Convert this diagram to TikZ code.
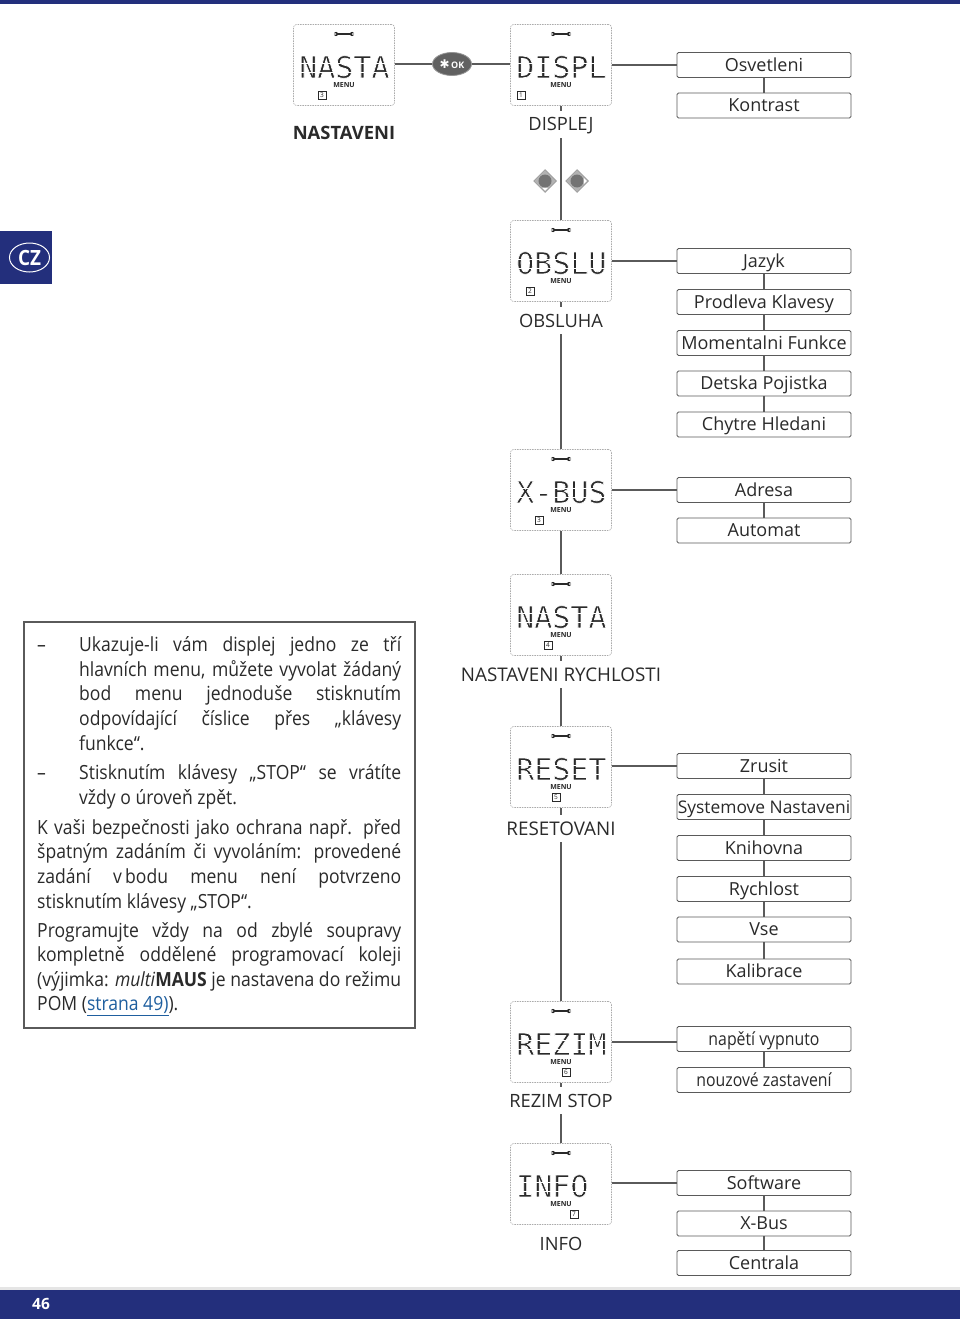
\documentclass[tikz,border=0pt]{standalone}
\usepackage{fontspec}
\usetikzlibrary{shapes.geometric}
\setmainfont{Open Sans}
\newfontfamily\bodyf[FakeStretch=0.9]{Open Sans}
\newfontfamily\condf[FakeStretch=0.88]{Open Sans}
\newfontfamily\lcdf{DejaVu Sans Mono}
\newfontfamily\symf{DejaVu Sans}
\definecolor{navy}{HTML}{232F7C}
\definecolor{linec}{HTML}{5A5A5A}
\definecolor{boxc}{HTML}{5A5A5A}
\definecolor{dashc}{HTML}{ABABAB}
\definecolor{linkc}{HTML}{1F5F9F}
\definecolor{inkc}{HTML}{2A2A2A}
\tikzset{
 x=1pt,y=-1pt,
 conn/.style={draw=linec,line width=1.3pt},
 menubox/.style={draw=boxc,fill=white,line width=0.8pt,rounded corners=1.5pt,minimum width=174pt,minimum height=25pt,inner sep=0pt,text height=12.4pt,text depth=0pt,font=\fontsize{18}{20}\selectfont,text=inkc},
 tightbox/.style={menubox,font=\fontsize{17.4}{20}\selectfont},
 condbox/.style={menubox,font=\condf\fontsize{18}{20}\selectfont},
 lcd/.style={draw=dashc,dash pattern=on 1.5pt off 1pt,line width=0.6pt,rounded corners=3pt,minimum width=101pt,minimum height=81pt,inner sep=0pt},
 lcdtext/.style={inner sep=0pt,anchor=west,font=\lcdf\fontsize{30}{30}\selectfont,text=inkc},
 menutag/.style={inner sep=0pt,font=\bfseries\fontsize{7}{7}\selectfont,text=inkc},
 numtag/.style={draw=inkc,line width=0.5pt,minimum size=8pt,inner sep=0pt,font=\fontsize{6.5}{6.5}\selectfont,text=inkc},
 caption/.style={inner sep=0pt,minimum height=27pt,text height=13pt,text depth=0pt,font=\fontsize{18.3}{20}\selectfont,text=inkc},
 wcaption/.style={caption,font=\fontsize{18.8}{20}\selectfont},
 wrench/.style={line width=1.3pt,draw=inkc},
 framebox/.style={draw=boxc,line width=1.3pt,inner sep=0pt,minimum width=391pt,minimum height=406pt},
 keydia/.style={diamond,aspect=1,fill=black!30,draw=black!45,line width=0.5pt,minimum size=23pt,inner sep=0pt},
 keyin/.style={circle,fill=black!55,minimum size=13pt,inner sep=0pt}
}
\newcommand{\thinon}{\special{pdf:code q 2 Tr 1 1 1 RG 0.7 w}}
\newcommand{\thinoff}{\special{pdf:code Q}}
\newcommand{\lcdunit}[6]{%
 \node[lcd] (#1) at (#2,#3) {};
 \draw[wrench] (#2-7,#3-31) -- (#2+7,#3-31);
 \fill[inkc] (#2-8,#3-31) circle (2.1pt) (#2+8,#3-31) circle (2.1pt);
 \fill[white] (#2-10.5,#3-31.7) rectangle (#2-8,#3-30.3) (#2+8,#3-31.7) rectangle (#2+10.5,#3-30.3);
 \node[lcdtext] (#1t) at (#2-45,#3+2) {\thinon#4\thinoff};
 \draw[white,line width=0.7pt] (#2-46,#3-2) -- (#2+46,#3-2);
 \draw[white,line width=0.7pt] (#2-46,#3+7.5) -- (#2+46,#3+7.5);
 \node[menutag] (#1m) at (#2,#3+20.5) {MENU};
 \node[numtag] (#1n) at (#2+#6,#3+30.5) {#5};
}
\newcommand{\jl}[1]{\hbox to 364pt{#1}}
\newcommand{\il}[1]{\hbox to 364pt{\hbox to 42pt{\hfil}\hbox to 322pt{#1}}}
\newcommand{\dl}[1]{\hbox to 364pt{\hbox to 42pt{–\hfil}\hbox to 322pt{#1}}}
\begin{document}
\begin{tikzpicture}
\useasboundingbox (0,0) rectangle (960,1319);
\fill[white] (0,0) rectangle (960,1319);
% bars
\fill[navy] (0,0) rectangle (960,4);
\fill[navy] (0,1290) rectangle (960,1319);
\fill[black!10] (0,1287) rectangle (960,1290);
\fill[navy] (0,231) rectangle (52,284);
\node[draw=white,line width=1pt,ellipse,minimum width=40pt,minimum height=29pt,inner sep=0pt,text=white,font=\bodyf\bfseries\fontsize{21}{21}\selectfont] (cz) at (29.5,257.5) {CZ};
\node[text=white,font=\bfseries\fontsize{15.5}{16}\selectfont,inner sep=0pt] (page) at (41,1304) {46};

% LCD units
\lcdunit{nasta}{344}{65}{NASTA}{3}{-22}
\lcdunit{displ}{561}{65}{DISPL}{1}{-40}
\lcdunit{obslu}{561}{261}{OBSLU}{2}{-31}
\lcdunit{xbus}{561}{490}{X-BUS}{3}{-22}
\lcdunit{nastb}{561}{615}{NASTA}{4}{-13}
\lcdunit{reset}{561}{767}{RESET}{5}{-5}
\lcdunit{rezim}{561}{1042}{REZIM}{6}{5}
\lcdunit{info}{561}{1184}{INFO}{7}{13}

% captions
\node[inner sep=0pt,font=\bfseries\fontsize{18.4}{20}\selectfont,text=inkc] (c1) at (344,133) {NASTAVENI};
\node[caption] (c2) at (561,124.5) {DISPLEJ};
\node[caption] (c3) at (561,320.5) {OBSLUHA};
\node[wcaption] (c4) at (561,674.5) {NASTAVENI RYCHLOSTI};
\node[wcaption] (c5) at (561,828.5) {RESETOVANI};
\node[caption] (c6) at (561,1100.5) {REZIM STOP};
\node[caption] (c7) at (561,1243.5) {INFO};

% menu boxes
\node[menubox] (a1) at (764,65) {Osvetleni};
\node[menubox] (a2) at (764,105.5) {Kontrast};
\node[menubox] (b1) at (764,261) {Jazyk};
\node[menubox] (b2) at (764,302) {Prodleva Klavesy};
\node[menubox] (b3) at (764,343) {Momentalni Funkce};
\node[menubox] (b4) at (764,383.5) {Detska Pojistka};
\node[menubox] (b5) at (764,424.5) {Chytre Hledani};
\node[menubox] (d1) at (764,490) {Adresa};
\node[menubox] (d2) at (764,530.5) {Automat};
\node[menubox] (e1) at (764,766) {Zrusit};
\node[tightbox] (e2) at (764,807) {Systemove Nastaveni};
\node[menubox] (e3) at (764,848) {Knihovna};
\node[menubox] (e4) at (764,889) {Rychlost};
\node[menubox] (e5) at (764,929.5) {Vse};
\node[menubox] (e6) at (764,971.5) {Kalibrace};
\node[condbox] (f1) at (764,1039) {napětí vypnuto};
\node[condbox] (f2) at (764,1080) {nouzové zastavení};
\node[menubox] (g1) at (764,1183) {Software};
\node[menubox] (g2) at (764,1223.5) {X-Bus};
\node[menubox] (g3) at (764,1263) {Centrala};

% OK button
\node[ellipse,fill=black!62,draw=black!42,line width=0.8pt,minimum width=39pt,minimum height=23pt,inner sep=0pt,text=white,font=\bfseries\fontsize{9}{9}\selectfont] (ok) at (452,64) {{\symf\fontsize{12}{12}\selectfont ✱}\,OK};

% arrow keys
\node[keydia] (kl) at (545,181) {};
\node[keyin] at (kl) {};
\node[keydia] (kr) at (577,181) {};
\node[keyin] at (kr) {};
\fill[white] (kl.south) ++(0,-2) -- ++(-3,-3) -- ++(6,0) -- cycle;
\fill[white] (kr.east) ++(-2,0) -- ++(-3,-3) -- ++(0,6) -- cycle;

% connectors
\draw[conn] (nasta.east |- ok.west) -- (ok.west);
\draw[conn] (ok.east) -- (displ.west |- ok.east);
\draw[conn] (displ.east |- a1.west) -- (a1.west);
\draw[conn] (obslu.east |- b1.west) -- (b1.west);
\draw[conn] (xbus.east |- d1.west) -- (d1.west);
\draw[conn] (reset.east |- e1.west) -- (e1.west);
\draw[conn] (rezim.east) -- (rezim.east -| f1.west);
\draw[conn] (info.east |- g1.west) -- (g1.west);
\draw[conn] (displ.south) -- (c2.north);
\draw[conn] (c2.south) -- (obslu.north);
\draw[conn] (obslu.south) -- (c3.north);
\draw[conn] (c3.south) -- (xbus.north);
\draw[conn] (xbus.south) -- (nastb.north);
\draw[conn] (nastb.south) -- (c4.north);
\draw[conn] (c4.south) -- (reset.north);
\draw[conn] (reset.south) -- (c5.north);
\draw[conn] (c5.south) -- (rezim.north);
\draw[conn] (rezim.south) -- (c6.north);
\draw[conn] (c6.south) -- (info.north);
\draw[conn] (a1) -- (a2);
\draw[conn] (b1) -- (b2);
\draw[conn] (b2) -- (b3);
\draw[conn] (b3) -- (b4);
\draw[conn] (b4) -- (b5);
\draw[conn] (d1) -- (d2);
\draw[conn] (e1) -- (e2);
\draw[conn] (e2) -- (e3);
\draw[conn] (e3) -- (e4);
\draw[conn] (e4) -- (e5);
\draw[conn] (e5) -- (e6);
\draw[conn] (f1) -- (f2);
\draw[conn] (g1) -- (g2);
\draw[conn] (g2) -- (g3);

% text frame
\node[framebox] (frame) at (219.5,825) {};
\node[inner sep=0pt,anchor=north west,text=inkc,font=\bodyf\fontsize{19.5}{24.6}\selectfont] (body) at (37,636.5) {\parbox[t]{364pt}{\lineskiplimit=-10pt\baselineskip=24.6pt
\dl{Ukazuje-li vám displej jedno ze tří}
\il{hlavních menu, můžete vyvolat žádaný}
\il{bod menu jednoduše stisknutím}
\il{odpovídající číslice přes „klávesy}
\il{funkce“.\hfil}
\vskip5pt
\dl{Stisknutím klávesy „STOP“ se vrátíte}
\il{vždy o úroveň zpět.\hfil}
\vskip5.4pt
\jl{K vaši bezpečnosti jako ochrana např. před}
\jl{špatným zadáním či vyvoláním: provedené}
\jl{zadání v\,bodu menu není potvrzeno}
\jl{stisknutím klávesy „STOP“.\hfil}
\vskip4.4pt
\jl{Programujte vždy na od zbylé soupravy}
\jl{kompletně oddělené programovací koleji}
\jl{(výjimka: \textit{multi}\textbf{MAUS} je nastavena do režimu}
\jl{POM (\textcolor{linkc}{\underline{strana 49)}})\kern0pt.\hfil}
}};
\end{tikzpicture}
\end{document}
